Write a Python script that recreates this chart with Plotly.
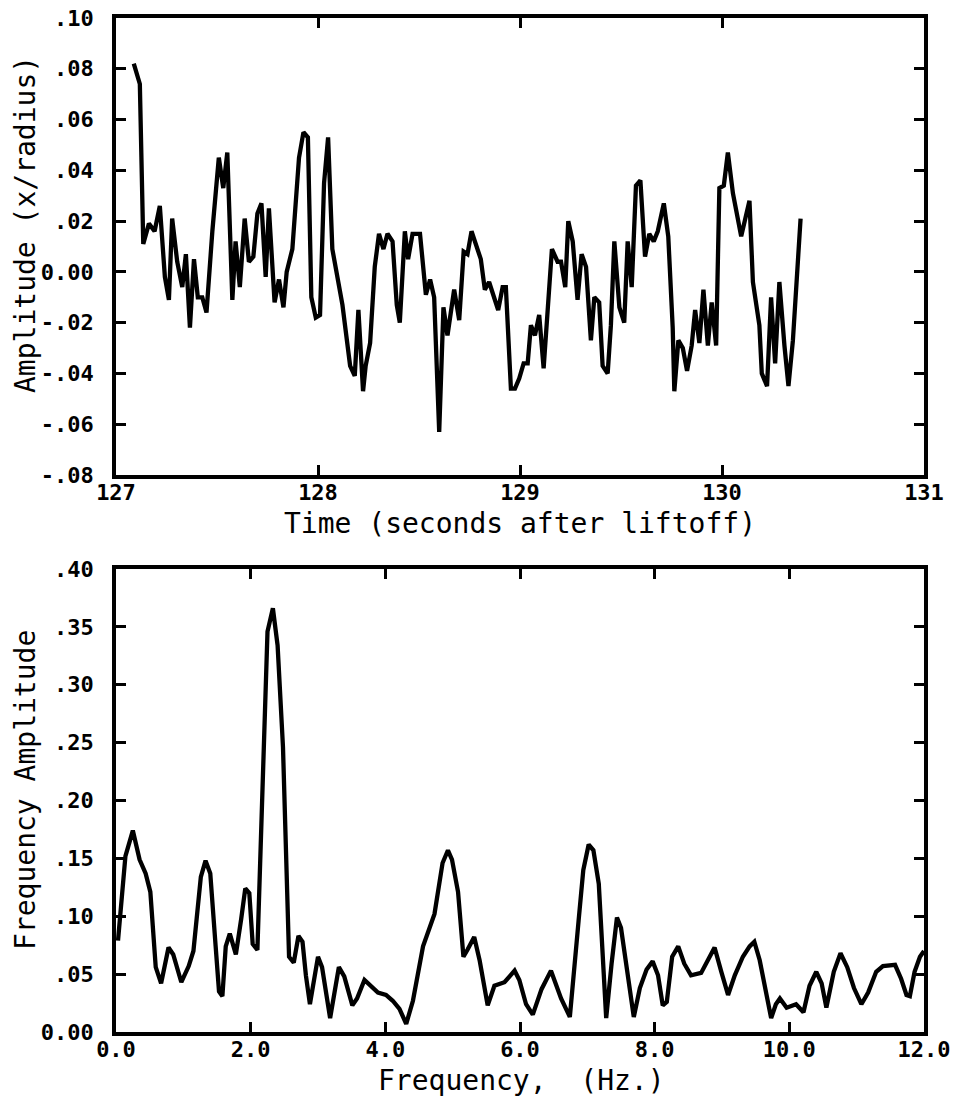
import plotly.graph_objects as go

# ---- Top panel: amplitude time history ----
time_s = [127.088, 127.118, 127.135, 127.163, 127.191, 127.217, 127.242, 127.262, 127.278, 127.303,
          127.328, 127.346, 127.366, 127.386, 127.405, 127.427, 127.448, 127.477, 127.509, 127.531,
          127.551, 127.576, 127.592, 127.613, 127.637, 127.658, 127.680, 127.700, 127.720, 127.741,
          127.757, 127.785, 127.807, 127.829, 127.845, 127.873, 127.906, 127.928, 127.950, 127.967,
          127.989, 128.010, 128.030, 128.050, 128.071, 128.096, 128.121, 128.159, 128.182, 128.200,
          128.223, 128.236, 128.258, 128.281, 128.302, 128.324, 128.344, 128.369, 128.390, 128.405,
          128.430, 128.446, 128.468, 128.505, 128.534, 128.555, 128.575, 128.600, 128.621, 128.641,
          128.674, 128.699, 128.721, 128.740, 128.760, 128.806, 128.826, 128.847, 128.892, 128.914,
          128.930, 128.955, 128.975, 128.996, 129.018, 129.038, 129.054, 129.074, 129.095, 129.117,
          129.137, 129.158, 129.186, 129.203, 129.224, 129.239, 129.261, 129.285, 129.305, 129.327,
          129.351, 129.368, 129.392, 129.409, 129.434, 129.450, 129.467, 129.492, 129.516, 129.533,
          129.553, 129.574, 129.596, 129.619, 129.640, 129.662, 129.682, 129.712, 129.734, 129.756,
          129.764, 129.784, 129.806, 129.827, 129.850, 129.867, 129.888, 129.908, 129.930, 129.949,
          129.971, 129.987, 130.009, 130.029, 130.054, 130.095, 130.136, 130.153, 130.185, 130.197,
          130.223, 130.243, 130.263, 130.284, 130.309, 130.329, 130.351, 130.367, 130.389]
amplitude = [0.082, 0.074, 0.011, 0.019, 0.016, 0.026, -0.002, -0.011, 0.021, 0.004,
             -0.006, 0.007, -0.022, 0.005, -0.010, -0.010, -0.016, 0.016, 0.045, 0.033,
             0.047, -0.011, 0.012, -0.006, 0.021, 0.004, 0.006, 0.023, 0.027, -0.002,
             0.025, -0.012, -0.003, -0.014, 0.000, 0.009, 0.045, 0.055, 0.053, -0.010,
             -0.018, -0.017, 0.035, 0.053, 0.009, -0.002, -0.013, -0.037, -0.041, -0.015,
             -0.047, -0.037, -0.028, 0.002, 0.015, 0.009, 0.015, 0.012, -0.013, -0.020,
             0.016, 0.005, 0.015, 0.015, -0.009, -0.003, -0.010, -0.063, -0.014, -0.025,
             -0.007, -0.019, 0.008, 0.007, 0.016, 0.005, -0.007, -0.004, -0.015, -0.006,
             -0.006, -0.046, -0.046, -0.042, -0.036, -0.036, -0.021, -0.025, -0.017, -0.038,
             -0.013, 0.009, 0.004, 0.004, -0.006, 0.020, 0.012, -0.011, 0.007, 0.002,
             -0.027, -0.010, -0.012, -0.037, -0.040, -0.021, 0.012, -0.014, -0.020, 0.012,
             -0.006, 0.034, 0.036, 0.006, 0.015, 0.012, 0.016, 0.027, 0.014, -0.022,
             -0.047, -0.027, -0.030, -0.039, -0.029, -0.015, -0.028, -0.007, -0.029, -0.012,
             -0.029, 0.033, 0.034, 0.047, 0.031, 0.014, 0.028, -0.004, -0.021, -0.040,
             -0.045, -0.010, -0.036, -0.004, -0.029, -0.045, -0.027, -0.009, 0.021]

time_ticks = [127, 128, 129, 130, 131]
amp_ticks = [0.10, 0.08, 0.06, 0.04, 0.02, 0.0, -0.02, -0.04, -0.06, -0.08]
amp_tick_labels = [".10", ".08", ".06", ".04", ".02", "0.00", "-.02", "-.04", "-.06", "-.08"]

# ---- Bottom panel: frequency spectrum ----
freq_hz = [0.03, 0.14, 0.25, 0.35, 0.44, 0.51, 0.59, 0.67, 0.78, 0.85,
           0.97, 1.08, 1.15, 1.26, 1.33, 1.40, 1.48, 1.53, 1.58, 1.63,
           1.69, 1.78, 1.86, 1.92, 1.98, 2.03, 2.10, 2.18, 2.25, 2.33,
           2.40, 2.48, 2.57, 2.64, 2.71, 2.77, 2.82, 2.88, 3.00, 3.06,
           3.18, 3.31, 3.39, 3.51, 3.58, 3.69, 3.79, 3.89, 4.01, 4.11,
           4.21, 4.31, 4.41, 4.56, 4.73, 4.85, 4.93, 4.99, 5.08, 5.16,
           5.22, 5.32, 5.40, 5.52, 5.62, 5.77, 5.92, 5.99, 6.09, 6.19,
           6.32, 6.46, 6.61, 6.74, 6.87, 6.94, 7.02, 7.09, 7.17, 7.23,
           7.28, 7.36, 7.44, 7.50, 7.60, 7.69, 7.78, 7.88, 7.97, 8.05,
           8.12, 8.18, 8.26, 8.35, 8.44, 8.54, 8.69, 8.79, 8.89, 8.99,
           9.09, 9.19, 9.31, 9.41, 9.48, 9.56, 9.66, 9.73, 9.80, 9.86,
           9.96, 10.10, 10.21, 10.30, 10.40, 10.48, 10.55, 10.66, 10.76, 10.86,
           10.96, 11.07, 11.17, 11.29, 11.39, 11.57, 11.66, 11.74, 11.79, 11.86,
           11.94, 12.00]
freq_amp = [0.079, 0.152, 0.174, 0.149, 0.137, 0.121, 0.056, 0.042, 0.073, 0.067,
            0.043, 0.057, 0.070, 0.134, 0.148, 0.137, 0.074, 0.035, 0.031, 0.074,
            0.085, 0.067, 0.098, 0.124, 0.120, 0.076, 0.071, 0.221, 0.346, 0.366,
            0.334, 0.246, 0.065, 0.060, 0.083, 0.078, 0.049, 0.024, 0.065, 0.056,
            0.012, 0.056, 0.048, 0.023, 0.029, 0.045, 0.039, 0.034, 0.032, 0.027,
            0.020, 0.007, 0.027, 0.074, 0.102, 0.146, 0.157, 0.149, 0.121, 0.065,
            0.071, 0.082, 0.062, 0.023, 0.040, 0.043, 0.053, 0.045, 0.024, 0.015,
            0.037, 0.053, 0.029, 0.013, 0.096, 0.140, 0.162, 0.157, 0.128, 0.059,
            0.012, 0.059, 0.099, 0.090, 0.046, 0.013, 0.038, 0.054, 0.061, 0.049,
            0.023, 0.026, 0.065, 0.074, 0.059, 0.049, 0.051, 0.062, 0.073, 0.052,
            0.032, 0.049, 0.065, 0.074, 0.078, 0.062, 0.034, 0.012, 0.024, 0.029,
            0.021, 0.024, 0.017, 0.040, 0.052, 0.042, 0.021, 0.052, 0.068, 0.056,
            0.038, 0.024, 0.034, 0.052, 0.057, 0.058, 0.046, 0.032, 0.031, 0.052,
            0.065, 0.070]

freq_ticks = [0, 2, 4, 6, 8, 10, 12]
freq_tick_labels = ["0.0", "2.0", "4.0", "6.0", "8.0", "10.0", "12.0"]
famp_ticks = [0.40, 0.35, 0.30, 0.25, 0.20, 0.15, 0.10, 0.05, 0.0]
famp_tick_labels = [".40", ".35", ".30", ".25", ".20", ".15", ".10", ".05", "0.00"]

# Window-pixel frame positions (page body margin is removed by post_script)
W, H = 963, 1099
TOP1, BOT1 = 18, 475
TOP2, BOT2 = 569, 1032
LEFT, RIGHT = 116, 924
ML, MR, MT, MB = LEFT, W - RIGHT, TOP1, H - BOT2
PW, PH = W - ML - MR, H - MT - MB


def px_x(win_x):
    return (win_x - ML) / PW


def px_y(win_y):
    return (H - MB - win_y) / PH


fig = go.Figure()
fig.add_trace(go.Scatter(x=time_s, y=amplitude, mode="lines",
                         line=dict(color="black", width=4.3), xaxis="x", yaxis="y",
                         showlegend=False))
fig.add_trace(go.Scatter(x=freq_hz, y=freq_amp, mode="lines",
                         line=dict(color="black", width=4.3), xaxis="x2", yaxis="y2",
                         showlegend=False))

tickfont = dict(family="DejaVu Sans Mono", size=22, color="black", weight="bold")
titlefont = dict(family="DejaVu Sans Mono", size=28, color="black")
common = dict(showline=True, linecolor="black", linewidth=3.5, mirror="ticks",
              ticks="inside", ticklen=10, tickwidth=3, tickcolor="black",
              showgrid=False, zeroline=False, tickfont=tickfont, automargin=False,
              ticklabeloverflow="allow")

fig.update_layout(
    width=W, height=H,
    margin=dict(l=ML, r=MR, t=MT, b=MB, autoexpand=False),
    paper_bgcolor="white", plot_bgcolor="white",
    xaxis=dict(domain=[0, 1], anchor="y", range=[127, 131], ticklabelstandoff=-5,
               tickvals=time_ticks, ticktext=[str(t) for t in time_ticks], **common),
    yaxis=dict(domain=[px_y(BOT1), 1.0], anchor="x", range=[-0.08, 0.10],
               tickvals=amp_ticks, ticktext=amp_tick_labels, ticklabelstandoff=14,
               **common),
    xaxis2=dict(domain=[0, 1], anchor="y2", range=[0, 12], tickvals=freq_ticks,
                ticklabelstandoff=-5, ticktext=freq_tick_labels, **common),
    yaxis2=dict(domain=[0, px_y(TOP2)], anchor="x2", range=[0, 0.40],
                tickvals=famp_ticks, ticktext=famp_tick_labels, ticklabelstandoff=14,
                **common),
)

titles = [
    ("Time (seconds after liftoff)", 520, 523, 0),
    ("Frequency,  (Hz.)", 521, 1080, 0),
    ("Amplitude (x/radius)", 25, 225, -90),
    ("Frequency Amplitude", 25, 790, -90),
]
for text, wx, wy, ang in titles:
    fig.add_annotation(text=text, xref="paper", yref="paper", x=px_x(wx), y=px_y(wy),
                       xanchor="center", yanchor="middle", textangle=ang,
                       showarrow=False, font=titlefont)

# small break in the top frame of the lower panel, as in the scanned original
fig.add_shape(type="line", xref="x2", yref="y2", x0=2.5, x1=2.88, y0=0.40, y1=0.40,
              line=dict(color="white", width=8), layer="above")

fig.write_html("out.html", config={"displayModeBar": False},
               post_script="document.body.style.margin='0';document.body.style.overflow='hidden';")
